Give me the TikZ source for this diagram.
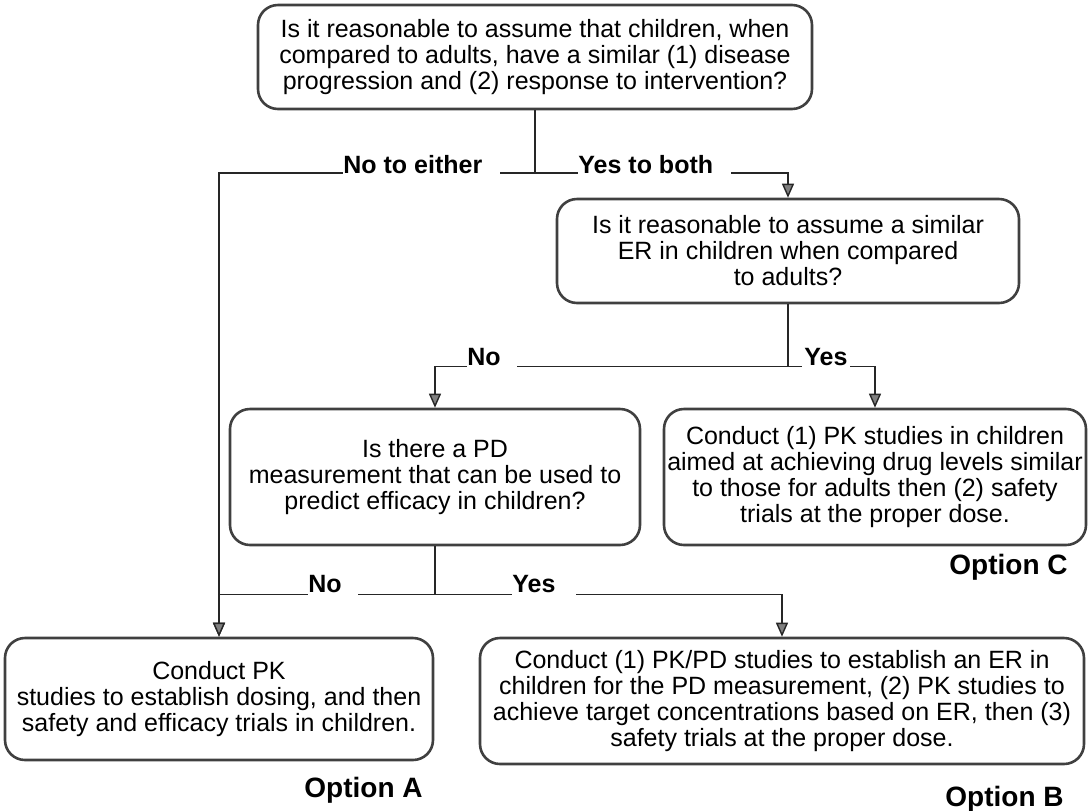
\documentclass[tikz,border=0pt]{standalone}
\usepackage{fontspec}
\setmainfont{Liberation Sans}
\usetikzlibrary{arrows.meta}
\tikzset{
  box/.style={draw=black!75, line width=1.3pt, rounded corners=10pt, align=center,
    inner sep=1pt, font=\fontsize{12.5}{13}\selectfont},
  lbl/.style={fill=white, inner xsep=0pt, inner ysep=2pt, anchor=base west,
    font=\fontsize{12.5}{13}\selectfont\bfseries},
  opt/.style={anchor=base east, inner sep=0pt, font=\fontsize{14}{15}\selectfont\bfseries},
  arr/.style={-{Triangle[width=6pt,length=7pt,fill=black!50]}},
  link/.style={draw=black!85, line width=0.7pt}
}
\begin{document}
\begin{tikzpicture}[x=0.5pt, y=-0.5pt]
\useasboundingbox (0,0) rectangle (1088,810);

% questions
\node (q1) at (535,57) [box, minimum width=277pt, minimum height=52pt] {Is it reasonable to assume that children, when\\compared to adults, have a similar (1) disease\\progression and (2) response to intervention?};
\node (q2) at (788,251) [box, minimum width=231pt, minimum height=52pt] {Is it reasonable to assume a similar\\ER in children when compared\\to adults?};
\node (q3) at (435,477) [box, minimum width=205pt, minimum height=68pt] {Is there a PD\\measurement that can be used to\\predict efficacy in children?};

% options
\node (optC) at (875,477) [box, minimum width=211pt, minimum height=68pt] {Conduct (1) PK studies in children\\aimed at achieving drug levels similar\\to those for adults then (2) safety\\trials at the proper dose.};
\node (optA) at (219,699) [box, minimum width=214pt, minimum height=61pt] {Conduct PK\\studies to establish dosing, and then\\safety and efficacy trials in children.};
\node (optB) at (782,701) [box, minimum width=302pt, minimum height=63pt] {Conduct (1) PK/PD studies to establish an ER in\\children for the PD measurement, (2) PK studies to\\achieve target concentrations based on ER, then (3)\\safety trials at the proper dose.};

% branches
\draw[link] (q1.south) -- (535,173) coordinate (r1);
\draw[link, arr] (r1) -| (optA);
\draw[link, arr] (r1) -| (q2);
\draw[link] (q2.south) -- ++(0,62) coordinate (r2);
\draw[link, arr] (r2) -| (q3);
\draw[link, arr] (r2) -| (optC);
\draw[link] (q3.south) -- ++(0,48) coordinate (r3);
\draw[link, arr] (r3) -| (optA);
\draw[link, arr] (r3) -| (optB);

\node[lbl] (noeither) at (343,173) {No to either\kern9pt};
\node[lbl] (yesboth) at (578,173) {Yes to both\kern9pt};
\node[lbl] (no2) at (467,365) {No\kern8pt};
\node[lbl] (yes2) at (802,365) {\kern1pt Yes\kern1pt};
\node[lbl] (no3) at (308,592) {No\kern8pt};
\node[lbl] (yes3) at (512,592) {Yes\kern10pt};

\node[opt] (labC) at (1068,574) {Option C};
\node[opt] (labA) at (423,797) {Option A};
\node[opt] (labB) at (1064,806) {Option B};
\end{tikzpicture}
\end{document}
